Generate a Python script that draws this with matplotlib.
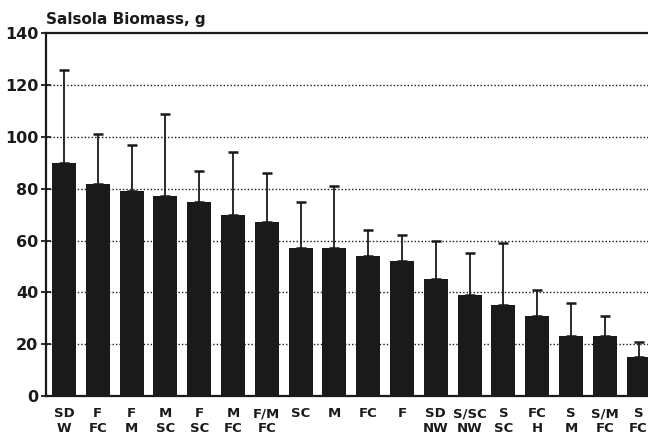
import matplotlib
matplotlib.use("Agg")
import matplotlib.pyplot as plt
import numpy as np

# Treatment codes (two-line labels) and Salsola biomass means with standard deviations
labels_top = ["SD", "F", "F", "M", "F", "M", "F/M", "SC", "M", "FC", "F",
              "SD", "S/SC", "S", "FC", "S", "S/M", "S"]
labels_bottom = ["W", "FC", "M", "SC", "SC", "FC", "FC", "", "", "", "",
                 "NW", "NW", "SC", "H", "M", "FC", "FC"]
biomass = [90, 82, 79, 77, 75, 70, 67, 57, 57, 54, 52, 45, 39, 35, 31, 23, 23, 15]
sd = [36, 19, 18, 32, 12, 24, 19, 18, 24, 10, 10, 15, 16, 24, 10, 13, 8, 6]
y_ticks = [0, 20, 40, 60, 80, 100, 120, 140]

plt.rcParams["font.family"] = ["DejaVu Sans"]
plt.rcParams["font.weight"] = "bold"

ink = "#1a1a1a"
fig = plt.figure(figsize=(6.48, 4.38), dpi=100)
ax = fig.add_axes([0.071, 0.096, 0.929, 0.828])

x = np.arange(len(biomass))
ax.bar(x, biomass, width=0.71, color=ink, zorder=3)
ax.errorbar(x, biomass, yerr=[np.zeros(len(sd)), sd], fmt="none",
            ecolor=ink, elinewidth=1.3, capsize=3.5, capthick=1.8, zorder=4)

ax.set_xlim(-0.53, 17.28)
ax.set_ylim(0, 140)
ax.set_yticks(y_ticks)
ax.set_yticklabels([str(v) for v in y_ticks], fontsize=11.5, fontweight="bold", color=ink)
ax.set_xticks(x)
ax.set_xticklabels([f"{a}\n{b}" for a, b in zip(labels_top, labels_bottom)],
                   fontsize=9.5, fontweight="bold", linespacing=1.2, color=ink)
ax.tick_params(axis="x", length=0, pad=8)
ax.tick_params(axis="y", direction="inout", length=7, width=1.3, pad=2, color=ink)

for v in y_ticks[1:-1]:
    ax.axhline(v, color=ink, linestyle=(0, (1, 1.5)), linewidth=1.0, zorder=1)

for side in ("left", "bottom", "top"):
    ax.spines[side].set_linewidth(1.6)
    ax.spines[side].set_color(ink)
ax.spines["right"].set_visible(False)

fig.text(0.071, 0.945, "Salsola Biomass, g", fontsize=11, fontweight="bold",
         ha="left", va="baseline", color=ink)

fig.savefig("out.png", dpi=100)
